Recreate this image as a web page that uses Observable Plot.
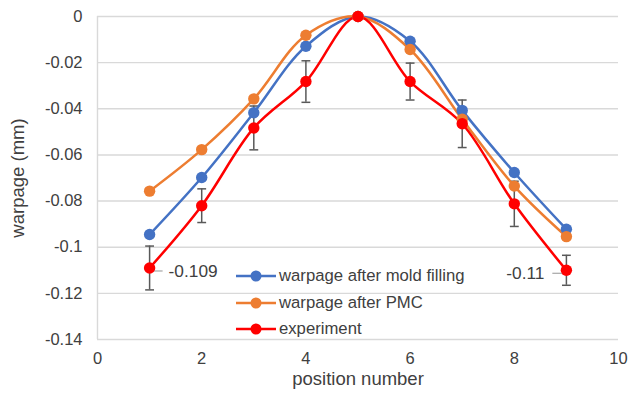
<!DOCTYPE html>
<html>
<head>
<meta charset="utf-8">
<script src="https://cdn.jsdelivr.net/npm/d3@7"></script>
<script src="https://cdn.jsdelivr.net/npm/@observablehq/plot@0.6"></script>
<style>
  html, body { margin: 0; padding: 0; background: #fff; }
  #chart { position: relative; width: 630px; height: 402px; font-family: "Liberation Sans", Arial, sans-serif; }
  #legend { position: absolute; left: 236px; top: 263px; font-size: 16.7px; color: #404040; }
  #legend .row { display: flex; align-items: center; height: 26.5px; }
  #legend svg { margin-right: 3px; }
</style>
</head>
<body>
<div id="chart"><div id="legend"></div></div>
<script>
// Measuring positions along the part
const positions = [1, 2, 3, 4, 5, 6, 7, 8, 9];

// Simulated warpage (mm)
const moldFilling = [-0.0945, -0.0698, -0.0417, -0.0129, 0, -0.0107, -0.0407, -0.0676, -0.0922];
const afterPMC    = [-0.0757, -0.0577, -0.0357, -0.0081, 0, -0.0143, -0.0445, -0.0735, -0.0954];

// Measured warpage (mm) and its spread
const experiment  = [-0.109, -0.082, -0.0483, -0.0282, 0, -0.0282, -0.0465, -0.0812, -0.11];
const expError    = [0.0095, 0.0073, 0.0095, 0.009, 0, 0.008, 0.0103, 0.0098, 0.0065];

// Axis ticks
const xTicks = [0, 2, 4, 6, 8, 10];
const yTicks = [0, -0.02, -0.04, -0.06, -0.08, -0.1, -0.12, -0.14];

// Series names and colours
const seriesNames  = ["warpage after mold filling", "warpage after PMC", "experiment"];
const seriesColors = ["#4472C4", "#ED7D31", "#FF0000"];

// Points whose value is written next to them
const labelledPositions = [1, 9];

const rows = [];
[moldFilling, afterPMC, experiment].forEach((vals, s) => {
  positions.forEach((p, i) => rows.push({series: seriesNames[s], pos: p, value: vals[i]}));
});
const expRows = positions.map((p, i) => ({pos: p, value: experiment[i], err: expError[i]}));
const barRows = expRows.filter(d => d.err > 0);
const capRows = barRows.flatMap(d => [{pos: d.pos, y: d.value - d.err}, {pos: d.pos, y: d.value + d.err}]);
const labelRows = expRows.filter(d => labelledPositions.includes(d.pos));

const chart = Plot.plot({
  width: 630,
  height: 402,
  marginLeft: 97,
  marginRight: 12,
  marginTop: 16,
  marginBottom: 63,
  style: {fontFamily: "'Liberation Sans', Arial, sans-serif", fontSize: "16.5px", color: "#404040", background: "#fff"},
  x: {type: "linear", domain: [0, 10]},
  y: {type: "linear", domain: [-0.14, 0]},
  color: {domain: seriesNames, range: seriesColors},
  marks: [
    Plot.gridY(yTicks, {stroke: "#d9d9d9", strokeOpacity: 1, strokeWidth: 1.4}),
    Plot.ruleX([0], {stroke: "#d9d9d9", strokeWidth: 1.4}),
    Plot.axisY({ticks: yTicks, tickSize: 0, tickPadding: 15, tickFormat: d => String(d), label: null, fill: "#404040", fontSize: 16.5}),
    Plot.axisX({ticks: xTicks, tickSize: 0, tickPadding: 13, tickFormat: d => String(d), label: null, fill: "#404040", fontSize: 16.5}),
    Plot.text(["warpage (mm)"], {frameAnchor: "left", textAnchor: "middle", rotate: -90, dx: -79, fontSize: 18.5, fill: "#404040"}),
    Plot.text(["position number"], {frameAnchor: "bottom", textAnchor: "middle", dy: 45, fontSize: 18.5, fill: "#404040"}),
    // error bars on the measurement
    Plot.ruleX(barRows, {x: "pos", y1: d => d.value - d.err, y2: d => d.value + d.err, stroke: "#595959", strokeWidth: 1.5}),
    Plot.link(capRows, {x1: d => d.pos - 0.085, x2: d => d.pos + 0.085, y1: "y", y2: "y", stroke: "#595959", strokeWidth: 1.5}),
    // value leaders and labels
    Plot.link(labelRows, {
      x1: d => d.pos < 5 ? d.pos + 0.06 : d.pos - 0.27,
      x2: d => d.pos < 5 ? d.pos + 0.25 : d.pos - 0.03,
      y1: "value", y2: "value", dy: 3, stroke: "#a6a6a6", strokeWidth: 1.2
    }),
    Plot.text(labelRows, {
      filter: d => d.pos < 5,
      x: "pos", y: "value", text: d => String(d.value),
      dx: 19, dy: 3, textAnchor: "start", fontSize: 17.3, fill: "#404040"
    }),
    Plot.text(labelRows, {
      filter: d => d.pos > 5,
      x: "pos", y: "value", text: d => String(d.value),
      dx: -22, dy: 3, textAnchor: "end", fontSize: 17.3, fill: "#404040"
    }),
    // series
    Plot.line(rows, {x: "pos", y: "value", z: "series", stroke: "series", strokeWidth: 2.5, curve: "catmull-rom"}),
    Plot.dot(rows, {x: "pos", y: "value", fill: "series", r: 5.7})
  ]
});

const host = document.getElementById("chart");
host.insertBefore(chart, host.firstChild);

// legend inside the plot area
const legend = document.getElementById("legend");
seriesNames.forEach((name, i) => {
  const row = document.createElement("div");
  row.className = "row";
  row.innerHTML = `<svg width="40" height="14"><line x1="0" x2="40" y1="7" y2="7" stroke="${seriesColors[i]}" stroke-width="2.5"/><circle cx="20" cy="7" r="5.5" fill="${seriesColors[i]}"/></svg><span>${name}</span>`;
  legend.appendChild(row);
});
</script>
</body>
</html>
